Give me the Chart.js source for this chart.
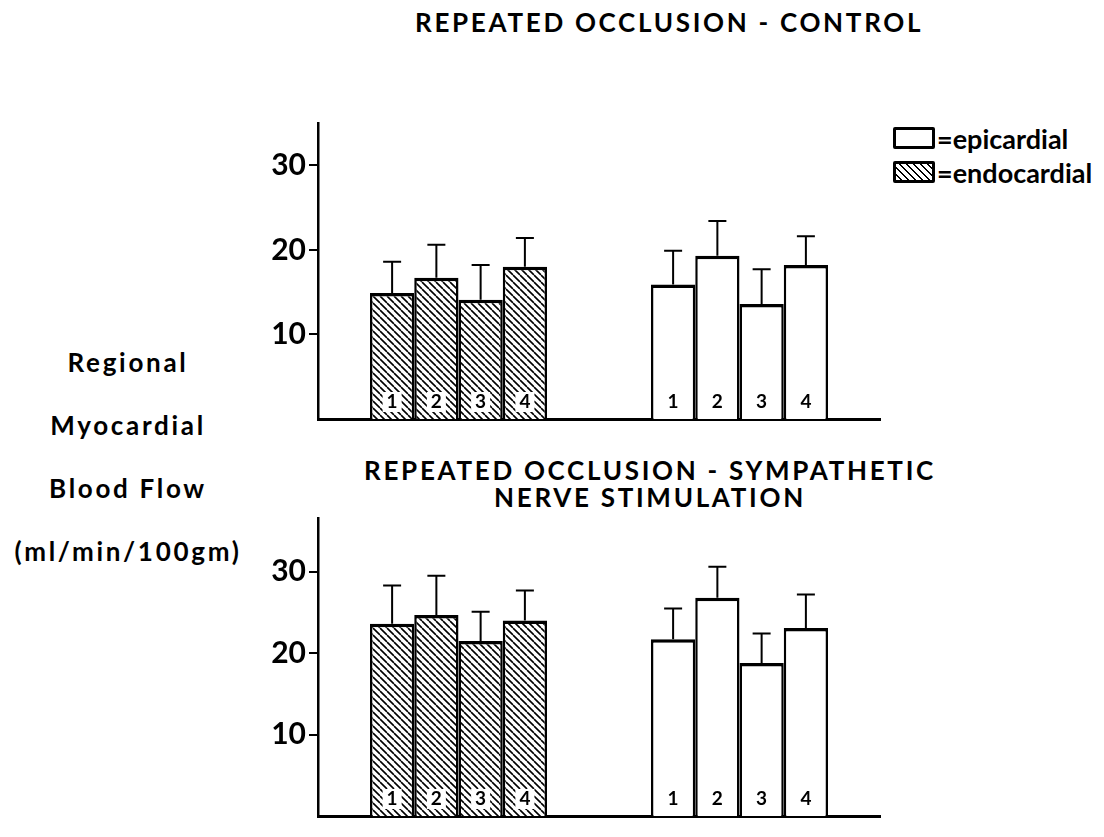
<!DOCTYPE html>
<html lang="en">
<head>
<meta charset="UTF-8">
<title>Repeated occlusion - regional myocardial blood flow</title>
<style>
  body {
    margin: 0;
    background: #fff;
    color: #000;
    font-family: Lato, "DejaVu Sans", sans-serif;
    font-weight: 700;
  }
  .page {
    position: relative;
    width: 1104px;
    height: 837px;
    overflow: hidden;
  }
  .title {
    position: absolute;
    white-space: nowrap;
    font-size: 26px;
    letter-spacing: 2.7px;
    text-align: center;
    line-height: 27px;
  }
  .ylabel {
    position: absolute;
    left: 0;
    width: 256px;
    top: 331px;
    text-align: center;
    font-size: 26px;
    line-height: 63px;
    letter-spacing: 2.7px;
  }
  .legend {
    position: absolute;
    left: 893px;
    top: 121px;
    font-size: 27px;
  }
  .legend .row {
    display: flex;
    align-items: center;
    height: 34px;
  }
  .swatch {
    display: inline-block;
    width: 36px;
    height: 16px;
    border: 3px solid #000;
    border-radius: 2px;
    background: #fff;
    margin-right: 2px;
  }
  .swatch.hatch {
    background: repeating-linear-gradient(45deg, #fff 0 3px, #000 3px 4.6px, #fff 4.6px 5px);
  }
  canvas {
    position: absolute;
  }
</style>
<script src="https://cdn.jsdelivr.net/npm/chart.js@4"></script>
</head>
<body>
<div class="page">
  <div class="title" style="left:415px; top:9px;">REPEATED OCCLUSION - CONTROL</div>
  <div class="title" style="left:350px; width:600px; top:457px;">REPEATED OCCLUSION - SYMPATHETIC<br>NERVE STIMULATION</div>

  <div class="ylabel">Regional<br>Myocardial<br>Blood Flow<br>(ml/min/100gm)</div>

  <div class="legend">
    <div class="row"><span class="swatch"></span><span>=epicardial</span></div>
    <div class="row"><span class="swatch hatch"></span><span>=endocardial</span></div>
  </div>

  <canvas id="controlChart" width="660" height="340" style="left:240px; top:100px;"></canvas>
  <canvas id="stimChart" width="660" height="342" style="left:240px; top:495px;"></canvas>
</div>

<script>
  // layer groups (x categories) and sample numbers (one dataset each)
  const groups = ['endocardial', 'epicardial'];
  const sampleLabels = ['1', '2', '3', '4'];
  const yTicks = [10, 20, 30];

  // repeated occlusion - control
  const controlEndo = [14.9, 16.7, 14.1, 18.0];
  const controlEndoSE = [3.7, 3.9, 4.1, 3.4];
  const controlEpi = [15.9, 19.3, 13.6, 18.2];
  const controlEpiSE = [4.0, 4.1, 4.1, 3.4];

  // repeated occlusion - sympathetic nerve stimulation
  const stimEndo = [23.6, 24.7, 21.5, 24.0];
  const stimEndoSE = [4.7, 4.8, 3.6, 3.7];
  const stimEpi = [21.7, 26.8, 18.8, 23.1];
  const stimEpiSE = [3.8, 3.8, 3.6, 4.1];

  const FONT = 'Lato, "DejaVu Sans", sans-serif';

  // diagonal hatching for the endocardial bars
  function makeHatch(ctx) {
    const s = 7;
    const c = document.createElement('canvas');
    c.width = s;
    c.height = s;
    const g = c.getContext('2d');
    g.fillStyle = '#fff';
    g.fillRect(0, 0, s, s);
    g.strokeStyle = '#000';
    g.lineWidth = 1.6;
    g.beginPath();
    for (let k = -1; k <= 1; k++) {
      g.moveTo(k * s, 0);
      g.lineTo(k * s + s, s);
    }
    g.stroke();
    return ctx.createPattern(c, 'repeat');
  }

  // error bars (mean + SE) and the sample number at the foot of each bar
  const barExtras = {
    id: 'barExtras',
    afterDatasetsDraw(chart) {
      const ctx = chart.ctx;
      const yScale = chart.scales.y;
      const bottom = chart.chartArea.bottom;
      chart.data.datasets.forEach((ds, i) => {
        chart.getDatasetMeta(i).data.forEach((bar, j) => {
          const top = yScale.getPixelForValue(ds.data[j] + ds.se[j]);
          ctx.save();
          ctx.strokeStyle = '#000';
          ctx.lineWidth = 2;
          ctx.beginPath();
          ctx.moveTo(bar.x, bar.y);
          ctx.lineTo(bar.x, top);
          ctx.moveTo(bar.x - 9, top);
          ctx.lineTo(bar.x + 9, top);
          ctx.stroke();

          ctx.font = '700 19px ' + FONT;
          ctx.textAlign = 'center';
          ctx.textBaseline = 'middle';
          const ly = bottom - 17;
          if (j === 0) {
            const w = ctx.measureText(ds.label).width + 8;
            ctx.fillStyle = '#fff';
            ctx.fillRect(bar.x - w / 2, ly - 10, w, 20);
          }
          ctx.fillStyle = '#000';
          ctx.fillText(ds.label, bar.x, ly);
          ctx.restore();
        });
      });
    }
  };

  function makeChart(id, endo, endoSE, epi, epiSE, yMax, pad) {
    const canvas = document.getElementById(id);
    const hatch = makeHatch(canvas.getContext('2d'));
    return new Chart(canvas, {
      type: 'bar',
      data: {
        labels: groups,
        datasets: sampleLabels.map((lab, i) => ({
          label: lab,
          data: [endo[i], epi[i]],
          se: [endoSE[i], epiSE[i]],
          backgroundColor: c => (c.dataIndex === 0 ? hatch : '#fff'),
          borderColor: '#000',
          borderWidth: { top: 3.5, left: 2.5, right: 2.5, bottom: 0 },
          barPercentage: 1,
          categoryPercentage: 0.63
        }))
      },
      options: {
        responsive: false,
        animation: false,
        layout: { padding: pad },
        plugins: {
          legend: { display: false },
          tooltip: { enabled: false }
        },
        scales: {
          x: {
            grid: { display: false },
            ticks: { display: false },
            border: { color: '#000', width: 3 },
            afterFit: s => { s.height = 0; }
          },
          y: {
            min: 0,
            max: yMax,
            afterBuildTicks: s => { s.ticks = yTicks.map(v => ({ value: v })); },
            ticks: {
              color: '#000',
              padding: 3,
              font: { family: FONT, weight: 'bold', size: 30 }
            },
            grid: {
              drawOnChartArea: false,
              tickLength: 9,
              color: '#000',
              lineWidth: 2
            },
            border: { color: '#000', width: 2.5 },
            afterFit: s => { s.width = 70; }
          }
        }
      },
      plugins: [barExtras]
    });
  }

  makeChart('controlChart', controlEndo, controlEndoSE, controlEpi, controlEpiSE, 35,
    { left: 8, right: 20, top: 23, bottom: 15 });
  makeChart('stimChart', stimEndo, stimEndoSE, stimEpi, stimEpiSE, 36.6,
    { left: 8, right: 20, top: 23, bottom: 2 });
</script>
</body>
</html>
